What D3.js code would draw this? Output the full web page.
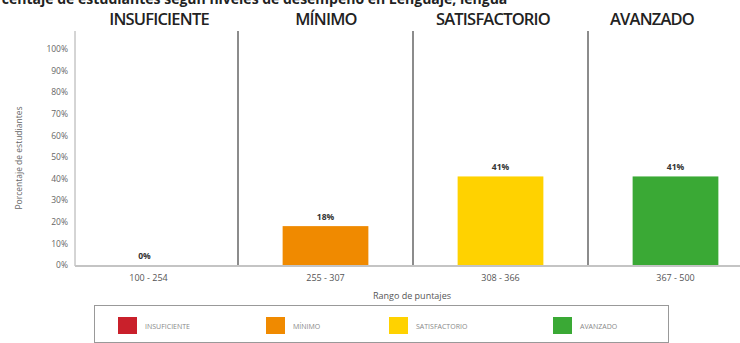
<!DOCTYPE html>
<html>
<head>
<meta charset="utf-8">
<script src="https://cdn.jsdelivr.net/npm/d3@7"></script>
<style>
  body { margin: 0; background: #fff; }
  svg { display: block; }
</style>
</head>
<body>
<div id="chart"></div>
<script>
const levels = ['INSUFICIENTE', 'MÍNIMO', 'SATISFACTORIO', 'AVANZADO']
const ranges = ['100 - 254', '255 - 307', '308 - 366', '367 - 500']
const values = [0, 18, 41, 41]
const colors = ['#c9202b', '#f08a00', '#ffd200', '#3aa935']
const yTicks = [0, 10, 20, 30, 40, 50, 60, 70, 80, 90, 100]

const width = 740
const height = 343

const svg = d3.select('#chart')
  .append('svg')
  .attr('width', width)
  .attr('height', height)

const xScale = d3.scaleBand()
  .domain(ranges)
  .range([63, 763])
  .paddingInner(0.51)
  .paddingOuter(0.255)

const yScale = d3.scaleLinear()
  .domain([0, 100])
  .range([265, 49])

// cut-off title at the very top (the reference shows only its lower half)
svg.append('text')
  .text('Porcentaje de estudiantes según niveles de desempeño en Lenguaje, lengua')
  .attr('x', -22)
  .attr('y', 4)
  .attr('font-family', 'Open Sans')
  .attr('font-weight', 'bold')
  .attr('font-size', 14)
  .attr('fill', '#222')

// level headers
const headerX = [159, 326, 493, 652]
svg.selectAll('.header')
  .data(levels)
  .enter()
  .append('text')
  .attr('class', 'header')
  .text(d => d)
  .attr('x', (d, i) => headerX[i])
  .attr('y', 25)
  .attr('text-anchor', 'middle')
  .attr('font-family', 'Open Sans')
  .attr('font-weight', '600')
  .attr('font-size', 16.5)
  .attr('letter-spacing', -0.8)
  .attr('fill', '#222')

// separators between bands
const sepX = ranges.slice(1).map(r => xScale(r) - xScale.step() * xScale.paddingInner() / 2)
svg.selectAll('.sep')
  .data(sepX)
  .enter()
  .append('line')
  .attr('x1', d => d)
  .attr('x2', d => d)
  .attr('y1', 31)
  .attr('y2', 265)
  .attr('stroke', '#666')
  .attr('stroke-width', 1.5)

// y axis
const yAxis = d3.axisLeft(yScale)
  .tickValues(yTicks)
  .tickSize(0)
  .tickPadding(7)
  .tickFormat(d => d + '%')
svg.append('g')
  .attr('transform', 'translate(75,0)')
  .call(yAxis)
  .call(g => g.select('.domain').remove())
  .call(g => g.selectAll('text')
    .attr('font-family', 'Open Sans')
    .attr('font-size', 8.5)
    .attr('fill', '#666'))

svg.append('line')
  .attr('x1', 75).attr('x2', 75)
  .attr('y1', 31).attr('y2', 266)
  .attr('stroke', '#aaa')
  .attr('stroke-width', 1)

svg.append('text')
  .text('Porcentaje de estudiantes')
  .attr('transform', 'translate(22,' + 158 + ') rotate(-90)')
  .attr('text-anchor', 'middle')
  .attr('font-family', 'Open Sans')
  .attr('font-size', 8.5)
  .attr('fill', '#666')

// bars
svg.selectAll('.bar')
  .data(values)
  .enter()
  .append('rect')
  .attr('x', (d, i) => xScale(ranges[i]))
  .attr('y', d => yScale(d))
  .attr('width', xScale.bandwidth())
  .attr('height', d => yScale(0) - yScale(d))
  .attr('fill', (d, i) => colors[i])

svg.selectAll('.val')
  .data(values)
  .enter()
  .append('text')
  .text(d => d + '%')
  .attr('x', (d, i) => xScale(ranges[i]) + xScale.bandwidth() / 2 - (i === 0 ? 6 : 0))
  .attr('y', d => yScale(d) - 6)
  .attr('text-anchor', 'middle')
  .attr('font-family', 'Open Sans')
  .attr('font-weight', 'bold')
  .attr('font-size', 8.5)
  .attr('fill', '#333')

// x axis baseline
svg.append('line')
  .attr('x1', 75).attr('x2', 740)
  .attr('y1', 266).attr('y2', 266)
  .attr('stroke', '#c4c4c4')
  .attr('stroke-width', 2)

const xAxis = d3.axisBottom(xScale).tickSize(0).tickPadding(9)
svg.append('g')
  .attr('transform', 'translate(0,266)')
  .call(xAxis)
  .call(g => g.select('.domain').remove())
  .call(g => g.selectAll('text')
    .attr('font-family', 'Open Sans')
    .attr('font-size', 9)
    .attr('fill', '#555'))
svg.selectAll('.tick text').filter(d => d === ranges[0]).attr('dx', -2)

svg.append('text')
  .text('Rango de puntajes')
  .attr('x', 412)
  .attr('y', 299)
  .attr('text-anchor', 'middle')
  .attr('font-family', 'Open Sans')
  .attr('font-size', 9)
  .attr('fill', '#555')

// legend
svg.append('rect')
  .attr('x', 94.5)
  .attr('y', 305.5)
  .attr('width', 574)
  .attr('height', 37)
  .attr('fill', 'none')
  .attr('stroke', '#999')
  .attr('stroke-width', 1)

const legendX = [118, 266, 389, 553]
const legend = svg.selectAll('.legend')
  .data(levels)
  .enter()
  .append('g')
  .attr('transform', (d, i) => 'translate(' + legendX[i] + ',317)')

legend.append('rect')
  .attr('width', 19)
  .attr('height', 17)
  .attr('fill', (d, i) => colors[i])

legend.append('text')
  .text(d => d)
  .attr('x', 27)
  .attr('y', 11.5)
  .attr('font-family', 'Open Sans')
  .attr('font-size', 7)
  .attr('fill', '#888')
</script>
</body>
</html>
